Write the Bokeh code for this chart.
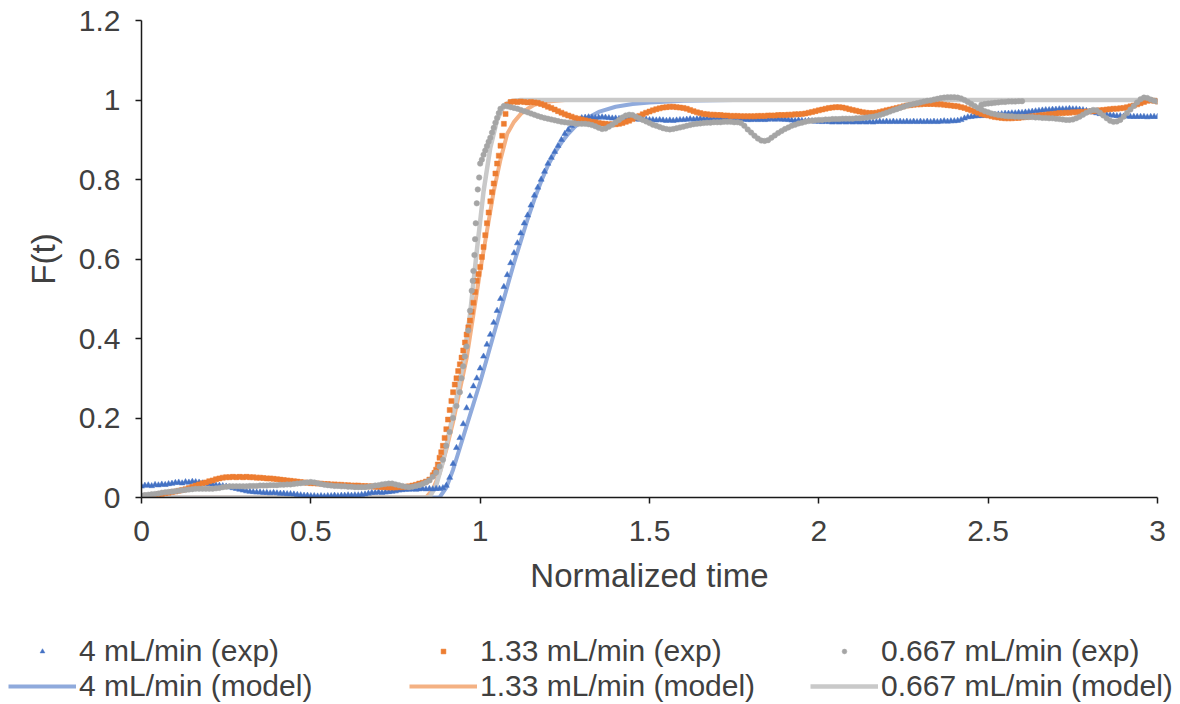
from bokeh.plotting import figure
from bokeh.models import Range1d, Legend, LegendItem, FixedTicker
from bokeh.embed import file_html
from bokeh.resources import INLINE

# ---------------- data ----------------
x_ticks = [0, 0.5, 1, 1.5, 2, 2.5, 3]
x_tick_labels = ["0", "0.5", "1", "1.5", "2", "2.5", "3"]
y_ticks = [0, 0.2, 0.4, 0.6, 0.8, 1, 1.2]
y_tick_labels = ["0", "0.2", "0.4", "0.6", "0.8", "1", "1.2"]

series_names = ["4 mL/min (exp)", "1.33 mL/min (exp)", "0.667 mL/min (exp)",
                "4 mL/min (model)", "1.33 mL/min (model)", "0.667 mL/min (model)"]

# sampling grid of the experimental curves (normalized time, step 0.01)
t_grid = [round(i * 0.01, 2) for i in range(301)]

f_4_exp = [
    0.028, 0.030, 0.031, 0.029, 0.032, 0.031, 0.033, 0.032, 0.034, 0.035,
    0.037, 0.038, 0.036, 0.039, 0.038, 0.040, 0.039, 0.038, 0.036, 0.035,
    0.034, 0.033, 0.031, 0.030, 0.029, 0.028, 0.026, 0.024, 0.022, 0.020,
    0.018, 0.016, 0.015, 0.014, 0.013, 0.013, 0.012, 0.012, 0.011, 0.012,
    0.011, 0.010, 0.010, 0.009, 0.009, 0.008, 0.007, 0.006, 0.005, 0.005,
    0.004, 0.004, 0.003, 0.004, 0.003, 0.004, 0.004, 0.005, 0.004, 0.005,
    0.005, 0.006, 0.005, 0.006, 0.006, 0.007, 0.008, 0.010, 0.012, 0.012,
    0.013, 0.012, 0.013, 0.014, 0.015, 0.016, 0.018, 0.019, 0.020, 0.020,
    0.021, 0.020, 0.021, 0.022, 0.021, 0.022, 0.021, 0.022, 0.022, 0.024,
    0.030, 0.050, 0.085, 0.125, 0.150, 0.185, 0.225, 0.255, 0.280, 0.300,
    0.325, 0.355, 0.385, 0.410, 0.440, 0.470, 0.500, 0.530, 0.560, 0.590,
    0.615, 0.640, 0.665, 0.690, 0.710, 0.735, 0.760, 0.780, 0.800, 0.820,
    0.840, 0.855, 0.870, 0.885, 0.900, 0.915, 0.925, 0.935, 0.943, 0.950,
    0.955, 0.956, 0.957, 0.956, 0.955, 0.956, 0.957, 0.956, 0.955, 0.954,
    0.954, 0.953, 0.954, 0.953, 0.952, 0.953, 0.952, 0.951, 0.952, 0.951,
    0.950, 0.950, 0.949, 0.950, 0.949, 0.948, 0.949, 0.948, 0.949, 0.950,
    0.950, 0.951, 0.952, 0.951, 0.952, 0.953, 0.952, 0.953, 0.952, 0.953,
    0.953, 0.952, 0.953, 0.952, 0.951, 0.952, 0.951, 0.950, 0.951, 0.950,
    0.950, 0.951, 0.950, 0.951, 0.950, 0.951, 0.952, 0.951, 0.952, 0.951,
    0.951, 0.950, 0.949, 0.948, 0.949, 0.948, 0.947, 0.948, 0.947, 0.946,
    0.946, 0.945, 0.946, 0.945, 0.944, 0.945, 0.944, 0.945, 0.944, 0.945,
    0.944, 0.945, 0.944, 0.945, 0.944, 0.945, 0.944, 0.945, 0.946, 0.945,
    0.946, 0.945, 0.946, 0.945, 0.946, 0.945, 0.946, 0.945, 0.946, 0.945,
    0.946, 0.945, 0.946, 0.945, 0.946, 0.945, 0.946, 0.947, 0.946, 0.947,
    0.947, 0.948, 0.950, 0.954, 0.957, 0.958, 0.959, 0.960, 0.960, 0.961,
    0.961, 0.962, 0.963, 0.964, 0.965, 0.966, 0.966, 0.967, 0.967, 0.968,
    0.968, 0.969, 0.970, 0.971, 0.972, 0.973, 0.974, 0.975, 0.975, 0.976,
    0.976, 0.977, 0.977, 0.977, 0.978, 0.977, 0.977, 0.976, 0.975, 0.973,
    0.971, 0.969, 0.967, 0.965, 0.964, 0.963, 0.962, 0.961, 0.960, 0.960,
    0.959, 0.959, 0.958, 0.958, 0.958, 0.958, 0.958, 0.957, 0.958, 0.958,
    0.958,
]

f_133_exp = [
    0.000, 0.002, 0.003, 0.005, 0.006, 0.008, 0.009, 0.011, 0.012, 0.014,
    0.015, 0.017, 0.019, 0.021, 0.024, 0.027, 0.030, 0.033, 0.036, 0.038,
    0.041, 0.043, 0.046, 0.048, 0.050, 0.051, 0.051, 0.052, 0.051, 0.052,
    0.051, 0.052, 0.051, 0.051, 0.050, 0.050, 0.049, 0.048, 0.048, 0.047,
    0.046, 0.045, 0.044, 0.043, 0.042, 0.041, 0.040, 0.039, 0.038, 0.037,
    0.036, 0.036, 0.035, 0.035, 0.034, 0.034, 0.033, 0.033, 0.032, 0.032,
    0.031, 0.031, 0.030, 0.030, 0.030, 0.029, 0.029, 0.028, 0.028, 0.027,
    0.027, 0.026, 0.026, 0.025, 0.025, 0.025, 0.026, 0.026, 0.027, 0.028,
    0.030, 0.032, 0.035, 0.037, 0.040, 0.045, 0.056, 0.070, 0.100, 0.130,
    0.172, 0.220, 0.265, 0.300, 0.335, 0.370, 0.410, 0.445, 0.490, 0.545,
    0.580, 0.630, 0.690, 0.745, 0.790, 0.840, 0.885, 0.940, 0.988, 0.995,
    0.996, 0.995, 0.996, 0.995, 0.994, 0.995, 0.994, 0.993, 0.990, 0.987,
    0.983, 0.980, 0.976, 0.972, 0.968, 0.964, 0.961, 0.958, 0.955, 0.953,
    0.951, 0.949, 0.947, 0.945, 0.944, 0.942, 0.941, 0.940, 0.939, 0.939,
    0.939, 0.940, 0.942, 0.945, 0.948, 0.952, 0.956, 0.960, 0.964, 0.968,
    0.971, 0.974, 0.977, 0.979, 0.981, 0.982, 0.983, 0.983, 0.982, 0.981,
    0.980, 0.978, 0.975, 0.972, 0.969, 0.967, 0.965, 0.964, 0.963, 0.963,
    0.962, 0.962, 0.961, 0.961, 0.960, 0.960, 0.960, 0.959, 0.959, 0.959,
    0.959, 0.959, 0.960, 0.960, 0.960, 0.961, 0.961, 0.961, 0.962, 0.962,
    0.962, 0.963, 0.963, 0.964, 0.964, 0.965, 0.966, 0.968, 0.970, 0.972,
    0.974, 0.976, 0.978, 0.980, 0.981, 0.982, 0.982, 0.981, 0.979, 0.977,
    0.975, 0.973, 0.971, 0.969, 0.968, 0.967, 0.967, 0.968, 0.970, 0.972,
    0.974, 0.976, 0.978, 0.980, 0.982, 0.984, 0.986, 0.987, 0.988, 0.989,
    0.989, 0.990, 0.990, 0.990, 0.990, 0.989, 0.989, 0.988, 0.987, 0.986,
    0.985, 0.984, 0.982, 0.980, 0.977, 0.974, 0.971, 0.968, 0.965, 0.963,
    0.961, 0.959, 0.957, 0.956, 0.955, 0.954, 0.954, 0.954, 0.955, 0.955,
    0.956, 0.957, 0.958, 0.959, 0.960, 0.961, 0.962, 0.963, 0.964, 0.965,
    0.966, 0.967, 0.967, 0.968, 0.968, 0.969, 0.969, 0.970, 0.970, 0.971,
    0.971, 0.972, 0.973, 0.974, 0.975, 0.976, 0.977, 0.978, 0.978, 0.979,
    0.980, 0.982, 0.984, 0.986, 0.989, 0.992, 0.995, 0.998, 0.999, 0.998,
    0.996,
]
# extra (denser) samples on the steep part
t_133_exp_extra = [0.865, 0.875, 0.885, 0.895, 0.905, 0.915, 0.925, 0.935, 0.945, 0.955, 0.965,
                   0.975, 0.985, 0.995, 1.005, 1.015, 1.025, 1.035, 1.045, 1.055, 1.065, 1.075]
f_133_exp_extra = [0.062, 0.083, 0.114, 0.150, 0.196, 0.243, 0.284, 0.318, 0.352, 0.390, 0.428,
                   0.467, 0.517, 0.562, 0.605, 0.660, 0.717, 0.768, 0.815, 0.860, 0.910, 0.965]

f_0667_exp = [
    0.005, 0.006, 0.007, 0.008, 0.009, 0.010, 0.012, 0.013, 0.014, 0.015,
    0.016, 0.017, 0.018, 0.019, 0.020, 0.021, 0.022, 0.022, 0.022, 0.022,
    0.022, 0.022, 0.023, 0.024, 0.026, 0.027, 0.028, 0.028, 0.028, 0.028,
    0.028, 0.028, 0.029, 0.029, 0.029, 0.030, 0.030, 0.030, 0.031, 0.031,
    0.031, 0.032, 0.032, 0.033, 0.033, 0.034, 0.035, 0.036, 0.037, 0.038,
    0.039, 0.038, 0.036, 0.034, 0.032, 0.031, 0.030, 0.029, 0.029, 0.028,
    0.028, 0.027, 0.027, 0.026, 0.026, 0.026, 0.026, 0.027, 0.028, 0.030,
    0.031, 0.033, 0.034, 0.035, 0.035, 0.033, 0.031, 0.029, 0.027, 0.026,
    0.027, 0.029, 0.031, 0.034, 0.038, 0.043, 0.052, 0.063, 0.078, 0.095,
    0.130, 0.165, 0.200, 0.230, 0.265, 0.330, 0.380, 0.470, 0.570, 0.740,
    0.840, 0.862, 0.884, 0.905, 0.930, 0.955, 0.978, 0.985, 0.984, 0.982,
    0.980, 0.978, 0.975, 0.972, 0.969, 0.966, 0.963, 0.960, 0.957, 0.955,
    0.953, 0.951, 0.949, 0.947, 0.945, 0.944, 0.943, 0.942, 0.941, 0.940,
    0.940, 0.940, 0.939, 0.937, 0.934, 0.930, 0.927, 0.928, 0.933, 0.938,
    0.944, 0.950, 0.956, 0.961, 0.963, 0.962, 0.958, 0.954, 0.950, 0.946,
    0.942, 0.938, 0.935, 0.932, 0.929, 0.927, 0.926, 0.927, 0.929, 0.931,
    0.933, 0.935, 0.937, 0.939, 0.940, 0.941, 0.942, 0.943, 0.943, 0.944,
    0.944, 0.944, 0.945, 0.945, 0.945, 0.944, 0.944, 0.942, 0.935, 0.926,
    0.918, 0.910, 0.903, 0.898, 0.897, 0.899, 0.905, 0.911, 0.917, 0.922,
    0.927, 0.931, 0.935, 0.938, 0.941, 0.943, 0.945, 0.947, 0.948, 0.949,
    0.950, 0.950, 0.951, 0.951, 0.952, 0.952, 0.952, 0.953, 0.953, 0.953,
    0.953, 0.954, 0.954, 0.955, 0.956, 0.957, 0.958, 0.960, 0.962, 0.965,
    0.968, 0.971, 0.974, 0.977, 0.980, 0.983, 0.986, 0.988, 0.990, 0.992,
    0.994, 0.996, 0.998, 0.999, 1.001, 1.003, 1.005, 1.006, 1.007, 1.007,
    1.007, 1.006, 1.004, 1.000, 0.995, 0.990, 0.985, 0.980, 0.976, 0.972,
    0.969, 0.966, 0.964, 0.962, 0.961, 0.960, 0.959, 0.959, 0.958, 0.958,
    0.958, 0.957, 0.957, 0.957, 0.956, 0.956, 0.955, 0.955, 0.954, 0.954,
    0.953, 0.952, 0.951, 0.950, 0.950, 0.951, 0.954, 0.958, 0.963, 0.968,
    0.972, 0.975, 0.974, 0.968, 0.961, 0.954, 0.948, 0.945, 0.946, 0.950,
    0.958, 0.967, 0.976, 0.985, 0.994, 1.002, 1.006, 1.005, 1.001, 0.998,
    0.996,
]
t_0667_exp_extra = [0.945, 0.955, 0.965, 0.975, 0.978, 0.983, 0.985, 0.987, 0.993, 0.997,
                    1.005, 1.015, 1.025, 1.035, 1.045, 1.055,
                    2.48, 2.49, 2.50, 2.51, 2.52, 2.53, 2.54, 2.55, 2.56, 2.57, 2.58, 2.59, 2.60]
f_0667_exp_extra = [0.300, 0.355, 0.420, 0.520, 0.545, 0.610, 0.650, 0.690, 0.775, 0.805,
                    0.850, 0.873, 0.895, 0.918, 0.943, 0.967,
                    0.988, 0.990, 0.991, 0.992, 0.993, 0.994, 0.995, 0.995, 0.996, 0.996,
                    0.996, 0.997, 0.997]

t_4_model = [0, 0.88, 0.90, 0.92, 0.94, 0.96, 0.98, 1.00, 1.02, 1.04, 1.06, 1.08, 1.10, 1.12,
             1.14, 1.16, 1.18, 1.20, 1.22, 1.24, 1.26, 1.28, 1.30, 1.35, 1.40, 1.45, 1.50,
             1.60, 1.75, 3.0]
f_4_model = [0, 0, 0.025, 0.07, 0.125, 0.18, 0.235, 0.29, 0.35, 0.41, 0.47, 0.53, 0.59, 0.645,
             0.70, 0.75, 0.795, 0.835, 0.867, 0.893, 0.915, 0.933, 0.947, 0.97, 0.983, 0.99,
             0.994, 0.998, 1.0, 1.0]

t_133_model = [0, 0.84, 0.86, 0.88, 0.90, 0.92, 0.94, 0.96, 0.98, 1.00, 1.02, 1.04, 1.06, 1.08,
               1.10, 1.12, 1.14, 1.16, 1.20, 1.25, 3.0]
f_133_model = [0, 0, 0.02, 0.06, 0.12, 0.19, 0.27, 0.35, 0.46, 0.57, 0.67, 0.77, 0.85, 0.915,
               0.945, 0.965, 0.978, 0.988, 0.996, 1.0, 1.0]

t_0667_model = [0, 0.85, 0.87, 0.89, 0.91, 0.93, 0.95, 0.97, 0.99, 1.01, 1.03, 1.05, 1.07,
                1.09, 1.12, 3.0]
f_0667_model = [0, 0, 0.03, 0.09, 0.17, 0.25, 0.34, 0.46, 0.62, 0.77, 0.88, 0.95, 0.985,
                0.997, 1.0, 1.0]

# ---------------- styles ----------------
FONT = "Liberation Sans"
TXT = "#404040"
BLUE, ORANGE, GREY = "#4472C4", "#ED7D31", "#A5A5A5"
LBLUE, LORANGE, LGREY = "#8FAADC", "#F4B183", "#C9C9C9"
exp_styles = [dict(marker="triangle", size=6, fill_color=BLUE, line_color=BLUE, line_width=0.5),
              dict(marker="square", size=5, fill_color=ORANGE, line_color=ORANGE, line_width=0.5),
              dict(marker="circle", size=5.5, fill_color=GREY, line_color=GREY, line_width=0.5)]
model_styles = [dict(line_color=LBLUE, line_width=4),
                dict(line_color=LORANGE, line_width=4),
                dict(line_color=LGREY, line_width=4.5)]

# ---------------- main chart ----------------
p = figure(width=1180, height=625, x_range=Range1d(0, 3), y_range=Range1d(0, 1.2),
           output_backend="svg", toolbar_location=None,
           min_border_left=141, min_border_right=23, min_border_top=20, min_border_bottom=128)
p.xgrid.visible = False
p.ygrid.visible = False
p.outline_line_color = None

p.xaxis.ticker = FixedTicker(ticks=x_ticks)
p.yaxis.ticker = FixedTicker(ticks=y_ticks)
p.xaxis.major_label_overrides = dict(zip(x_ticks, x_tick_labels))
p.yaxis.major_label_overrides = dict(zip(y_ticks, y_tick_labels))
for ax in (p.xaxis[0], p.yaxis[0]):
    ax.axis_line_color = "#1a1a1a"
    ax.axis_line_width = 1.5
    ax.major_tick_line_color = "#1a1a1a"
    ax.major_tick_line_width = 1.5
    ax.major_tick_out = 6
    ax.major_tick_in = 0
    ax.minor_tick_out = 0
    ax.minor_tick_in = 0
    ax.major_label_text_font = FONT
    ax.major_label_text_font_size = "30px"
    ax.major_label_text_color = TXT
    ax.axis_label_text_font = FONT
    ax.axis_label_text_font_size = "33px"
    ax.axis_label_text_font_style = "normal"
    ax.axis_label_text_color = TXT
p.xaxis.axis_label = "Normalized time"
p.yaxis.axis_label = "F(t)"
p.xaxis.major_label_standoff = 17
p.yaxis.major_label_standoff = 15
p.xaxis.axis_label_standoff = 13
p.yaxis.axis_label_standoff = 14

p.line(t_4_model, f_4_model, **model_styles[0])
p.line(t_133_model, f_133_model, **model_styles[1])
p.line(t_0667_model, f_0667_model, **model_styles[2])
p.scatter(t_grid, f_4_exp, **exp_styles[0])
p.scatter(t_grid + t_133_exp_extra, f_133_exp + f_133_exp_extra, **exp_styles[1])
p.scatter(t_grid + t_0667_exp_extra, f_0667_exp + f_0667_exp_extra, **exp_styles[2])

# ---------------- legend strip (separate root, full-width frame) ----------------
lp = figure(width=1180, height=79, x_range=Range1d(0, 1), y_range=Range1d(0, 1),
            output_backend="svg", toolbar_location=None,
            x_axis_location=None, y_axis_location=None,
            min_border_left=0, min_border_right=0, min_border_top=0, min_border_bottom=0)
lp.xgrid.visible = False
lp.ygrid.visible = False
lp.outline_line_color = None

# key glyph renderers (their single point lies outside the visible range)
key_exp = [lp.scatter([-5], [-5], **exp_styles[i]) for i in range(3)]
key_mod = [lp.line([-5, -4], [-5, -5], **model_styles[i]) for i in range(3)]

common = dict(orientation="horizontal", spacing=0, padding=0, margin=0,
              border_line_color=None, background_fill_alpha=0, label_text_font=FONT,
              label_text_font_size="30px", label_text_color=TXT, label_height=30,
              glyph_height=34)
# row 1: experimental markers (small key box so markers stay small)
lg1 = Legend(items=[LegendItem(label=series_names[i], renderers=[key_exp[i]]) for i in range(3)],
             location=(36, 36), glyph_width=12, label_standoff=31, label_width=358, **common)
# row 2: model lines
lg2 = Legend(items=[LegendItem(label=series_names[i + 3], renderers=[key_mod[i]]) for i in range(3)],
             location=(8, 1), glyph_width=68, label_standoff=3, label_width=330, **common)
lp.add_layout(lg1, "center")
lp.add_layout(lg2, "center")

open("out.html", "w").write(file_html([p, lp], INLINE))
